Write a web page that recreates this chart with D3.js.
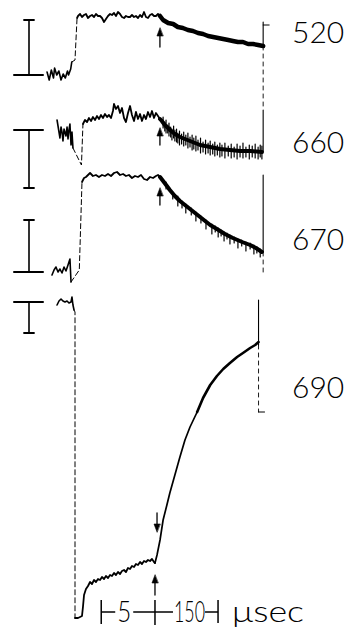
<!DOCTYPE html>
<html><head><meta charset="utf-8">
<script src="https://cdn.jsdelivr.net/npm/d3@7/dist/d3.min.js"></script>
<style>body{margin:0;background:#fff}svg{display:block}</style>
</head><body>
<svg id="c" width="351" height="627"></svg>
<script>
// ---- DATA (time in μs: fast sweep before the arrow, slow sweep after; signal in relative units, up = positive)
const wavelengths = ["520", "660", "670", "690"];
const timeBarLabels = ["5", "150"];
const timeUnit = "μsec";
const switchTimes = [7.9, 7.9, 7.9, 7.44];

const pre520 = [[-2.6,3],[-2.4,-5],[-2.2,5],[-2.0,-3],[-1.9,7],[-1.7,0],[-1.5,4],[-1.3,-5],[-1.1,1],[-0.9,-3],[-0.7,4],[-0.6,0],[-0.4,6],[-0.3,13]];
const flash520 = [[0.0,15]];
const fast520 = [[0.19,57],[0.28,59],[0.47,61],[0.65,58],[0.84,60],[1.02,61],[1.21,57],[1.40,59],[1.58,60],[1.77,58],[1.95,61],[2.14,59],[2.33,59],[2.51,57],[2.70,53],[2.88,56],[3.07,59],[3.26,61],[3.44,60],[3.63,62],[3.81,59],[4.00,63],[4.19,61],[4.37,58],[4.56,57],[4.74,59],[4.93,58],[5.12,58],[5.30,60],[5.49,58],[5.67,59],[5.86,57],[6.05,60],[6.23,58],[6.42,63],[6.60,58],[6.79,57],[6.98,60],[7.16,61],[7.35,59],[7.53,59],[7.72,61],[7.91,59]];
const slow520 = [[7.91,59],[13,55],[25,52],[37,51],[48,48],[60,47],[72,45],[84,44],[96,42],[108,41],[120,39],[132,38],[144,37],[156,36],[168,35],[179,34],[191,33],[203,33],[215,31],[227,31],[239,30],[251,29]];

const pre660 = [[-1.67,12],[-1.58,6],[-1.40,-6],[-1.30,5],[-1.21,0],[-1.12,-9],[-1.02,3],[-0.84,-4],[-0.74,5],[-0.65,-7],[-0.56,2],[-0.47,8],[-0.37,-13],[-0.28,0],[-0.19,-16]];
const flash660 = [[0.6,-33]];
const fast660 = [[0.74,8],[0.93,12],[1.12,10],[1.30,14],[1.49,11],[1.67,15],[1.86,12],[2.05,16],[2.23,13],[2.42,17],[2.60,14],[2.79,18],[2.98,15],[3.16,17],[3.35,14],[3.53,21],[3.63,28],[3.81,23],[4.00,26],[4.19,19],[4.37,24],[4.56,14],[4.74,10],[4.93,19],[5.12,26],[5.30,17],[5.49,11],[5.67,20],[5.86,13],[6.05,18],[6.23,11],[6.42,17],[6.60,13],[6.79,20],[6.98,15],[7.16,21],[7.35,14],[7.53,19],[7.72,16],[7.91,13]];
const slow660 = [[7.91,13],[10,11],[17,7],[25,4],[32,1],[41,-2],[53,-5],[65,-7],[77,-9],[89,-11],[101,-13],[113,-14],[125,-15],[148,-17],[172,-18],[196,-19],[220,-19],[248,-20]];
const spikes660 = [[13,15,4],[17,10,1],[20,12,-1],[24,7,-1],[27,9,-4],[31,5,-5],[34,3,-8],[38,6,-6],[41,2,-9],[45,3,-10],[48,-1,-11],[52,1,-13],[57,-2,-12],[62,0,-14],[67,-3,-13],[72,-1,-16],[77,-5,-15],[82,-3,-18],[86,-6,-17],[91,-4,-19],[96,-8,-18],[102,-6,-21],[108,-10,-20],[114,-8,-22],[120,-11,-21],[125,-9,-23],[131,-12,-22],[136,-10,-24],[142,-13,-23],[148,-11,-25],[153,-13,-24],[160,-11,-26],[168,-14,-24],[175,-12,-26],[182,-15,-25],[189,-12,-27],[196,-14,-25],[203,-11,-26],[210,-15,-25],[218,-13,-27],[225,-14,-25],[232,-12,-26],[239,-15,-27],[244,-13,-25],[248,-14,-27]];

const pre670 = [[-2.14,-5],[-1.95,0],[-1.77,3],[-1.58,-2],[-1.40,1],[-1.21,-3],[-1.02,3],[-0.84,-1],[-0.65,5],[-0.47,11],[-0.37,-12]];
const flash670 = [[0.4,0]];
const fast670 = [[0.65,88],[0.84,92],[1.02,93],[1.21,95],[1.40,97],[1.67,94],[1.95,95],[2.23,93],[2.51,95],[2.79,94],[3.07,96],[3.35,94],[3.63,97],[3.91,98],[4.19,95],[4.47,96],[4.74,94],[5.02,95],[5.30,92],[5.58,94],[5.86,93],[6.14,95],[6.42,91],[6.70,90],[6.98,93],[7.26,92],[7.53,94],[7.72,95],[7.91,93]];
const slow670 = [[7.91,93],[13,89],[22,84],[29,80],[41,74],[53,69],[65,65],[77,61],[89,57],[101,53],[113,49],[125,45],[141,41],[160,36],[179,32],[201,28],[220,25],[234,22],[248,18]];
const spikes670 = [[20,88,81],[36,78,71],[48,74,64],[58,69,62],[67,66,57],[80,62,55],[91,58,49],[103,54,47],[115,50,41],[129,46,36],[137,44,38],[144,42,33],[151,40,34],[158,38,29],[165,37,31],[172,35,26],[182,33,27],[191,31,22],[200,30,24],[210,28,19],[220,27,21],[229,25,16],[236,23,17],[244,21,13]];

const pre690 = [[-1.67,-2],[-1.49,2],[-1.30,4],[-1.12,2],[-0.93,1],[-0.74,2],[-0.56,0],[-0.37,1],[-0.28,6],[-0.19,-2],[-0.09,-7]];
const flash690 = [[0.0,-9],[0.0,-312]];
const fast690 = [[0.0,-315],[0.28,-315],[0.47,-314],[0.65,-313],[0.74,-304],[0.84,-292],[1.02,-286],[1.21,-283],[1.40,-279],[1.58,-281],[1.77,-277],[1.95,-279],[2.14,-276],[2.33,-277],[2.51,-274],[2.70,-276],[2.88,-273],[3.07,-275],[3.26,-272],[3.44,-273],[3.63,-270],[3.81,-272],[4.00,-269],[4.19,-271],[4.37,-268],[4.56,-267],[4.74,-269],[4.93,-265],[5.12,-266],[5.30,-263],[5.49,-264],[5.67,-261],[5.86,-262],[6.05,-259],[6.23,-261],[6.42,-258],[6.60,-259],[6.79,-257],[6.98,-258],[7.16,-256],[7.35,-259],[7.44,-260]];
const slow690a = [[7.44,-260],[7.63,-252],[7.91,-237],[13,-217],[22,-202],[29,-190],[41,-172],[53,-154],[65,-137],[77,-124],[94,-109]];
const slow690b = [[94,-109],[108,-95],[125,-82],[141,-73],[156,-66],[172,-60],[189,-54],[203,-50],[220,-45],[232,-42],[240,-39]];

// end-of-sweep retrace: [t, solid top, solid bottom, dashed to, tick at]
const retrace = [[251,53,29,-35,50],[251,22,-20,null,null],[251,95,18,-3,null],[240,3,-42,-109,-109]];
// arrows at time-base switch: [t, tip, tail]
const arrows = [[7.9,47,28],[7.9,4,-13],[7.9,82,65],[7.44,-272,-292],[7.63,-229,-210]];
// amplitude scale bars: [from (long cap), to (short cap)]
const scaleBars = [[0,55],[2,-56],[-2,50],[1,-30]];

// ---- LAYOUT
const base = [75,132,270,303];
const labelBase = [43,153,250,398];
const labelX = 292, barX = 29, axisY = 612;
const decayWidth = [4.5,4,4,1.8];

const svg = d3.select("#c");
const x = d3.scaleLinear().domain([0, 8, 253]).range([75, 161, 264]);
const yOf = i => d3.scaleLinear().domain([0, 100]).range([base[i], base[i]-100]);
const FONT = "Lato, 'Open Sans', sans-serif";

const traces = [
  {pre:pre520, flash:flash520, fast:fast520, slow:[slow520], spikes:[]},
  {pre:pre660, flash:flash660, fast:fast660, slow:[slow660], spikes:spikes660},
  {pre:pre670, flash:flash670, fast:fast670, slow:[slow670], spikes:spikes670},
  {pre:pre690, flash:flash690, fast:fast690, slow:[slow690a, slow690b], spikes:[]}
];

const g = svg.append("g").attr("fill","none").attr("stroke","#000").attr("stroke-linejoin","round").attr("stroke-linecap","round");

traces.forEach((tr,i)=>{
  const y = yOf(i);
  const ln = d3.line().x(d=>x(d[0])).y(d=>y(d[1]));
  g.append("path").attr("d", ln(tr.pre)).attr("stroke-width",1.6);
  const riseD = [tr.pre[tr.pre.length-1], ...tr.flash, tr.fast[0]];
  g.append("path").attr("d", ln(riseD)).attr("stroke-width",1).attr("stroke-dasharray","5,3");
  g.append("path").attr("d", ln(tr.fast)).attr("stroke-width",1.8);
  tr.slow.forEach((s,k)=>{
    g.append("path").attr("d", ln(s)).attr("stroke-width", i===3 ? (k===0?1.7:2.6) : decayWidth[i]);
  });
  tr.spikes.forEach(s=>{
    g.append("line").attr("x1",x(s[0])).attr("x2",x(s[0])).attr("y1",y(s[1])).attr("y2",y(s[2])).attr("stroke-width",1.2);
  });
  // retrace
  const r = retrace[i], xr = x(r[0]);
  g.append("line").attr("x1",xr).attr("x2",xr).attr("y1",y(r[1])).attr("y2",y(r[2])).attr("stroke-width",1.1);
  if(r[3]!==null) g.append("line").attr("x1",xr).attr("x2",xr).attr("y1",y(r[2])).attr("y2",y(r[3])).attr("stroke-width",0.9).attr("stroke-dasharray","4,4");
  if(r[4]!==null) g.append("line").attr("x1",xr).attr("x2",xr+6).attr("y1",y(r[4])).attr("y2",y(r[4])).attr("stroke-width",1);
  // scale bar
  const sb = scaleBars[i];
  g.append("line").attr("x1",barX).attr("x2",barX).attr("y1",y(sb[0])).attr("y2",y(sb[1])).attr("stroke-width",1.6);
  g.append("line").attr("x1",barX-15).attr("x2",barX+14).attr("y1",y(sb[0])).attr("y2",y(sb[0])).attr("stroke-width",2);
  g.append("line").attr("x1",barX-5).attr("x2",barX+5).attr("y1",y(sb[1])).attr("y2",y(sb[1])).attr("stroke-width",1.8);
  // label
  svg.append("text").attr("x",labelX).attr("y",labelBase[i]).text(wavelengths[i])
    .attr("font-family",FONT).attr("font-weight",300).attr("font-size",30).attr("fill","#000");
});

// arrows
const arrowOwner = [0,1,2,3,3];
arrows.forEach((a,k)=>{
  const y = yOf(arrowOwner[k]);
  const xa = x(a[0]), ytip = y(a[1]), ytail = y(a[2]);
  const dir = ytail > ytip ? 1 : -1;
  g.append("line").attr("x1",xa).attr("x2",xa).attr("y1",ytail).attr("y2",ytip+dir*5).attr("stroke-width",1.3);
  g.append("path").attr("d",`M${xa},${ytip} L${xa-3},${ytip+dir*8} L${xa+3},${ytip+dir*8} Z`).attr("fill","#000").attr("stroke-width",0.6);
});

// time bar
const tc = switchTimes[3];
const xc = x(tc), xl = x(tc-5), xr2 = xc + (x(8+150)-x(8));
const ax = svg.append("g").attr("stroke","#000").attr("stroke-width",1.5).attr("fill","none");
ax.append("line").attr("x1",xl).attr("x2",xl).attr("y1",axisY-12).attr("y2",axisY+12);
ax.append("line").attr("x1",xc).attr("x2",xc).attr("y1",axisY-12).attr("y2",axisY+13);
ax.append("line").attr("x1",xr2).attr("x2",xr2).attr("y1",axisY-12).attr("y2",axisY+11);
ax.append("line").attr("x1",xl).attr("x2",xl+14).attr("y1",axisY).attr("y2",axisY);
ax.append("line").attr("x1",xl+32).attr("x2",xc+18).attr("y1",axisY).attr("y2",axisY);
ax.append("line").attr("x1",xr2-13).attr("x2",xr2).attr("y1",axisY).attr("y2",axisY);
const tStyle = s => s.attr("font-family",FONT).attr("font-weight",300).attr("font-size",30).attr("fill","#000");
tStyle(svg.append("text").attr("x",xl+16).attr("y",axisY+10).text(timeBarLabels[0])
  .attr("textLength",14).attr("lengthAdjust","spacingAndGlyphs"));
tStyle(svg.append("text").attr("x",xc+19).attr("y",axisY+10).text(timeBarLabels[1])
  .attr("textLength",31).attr("lengthAdjust","spacingAndGlyphs"));
tStyle(svg.append("text").attr("x",xr2+14).attr("y",axisY+10).text(timeUnit)
  .attr("textLength",72).attr("lengthAdjust","spacingAndGlyphs"));
</script>
</body></html>
